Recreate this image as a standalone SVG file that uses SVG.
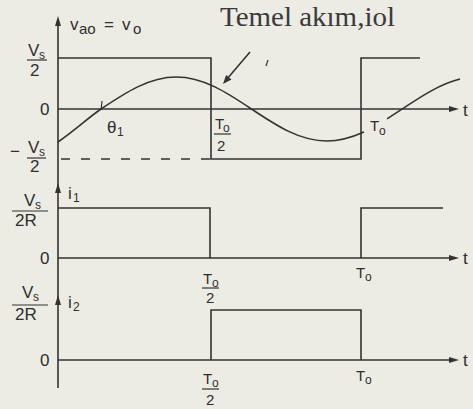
<svg xmlns="http://www.w3.org/2000/svg" width="473" height="409" viewBox="0 0 473 409">
<style>
.bg{fill:#ecebe4}
.ln{fill:none;stroke:#333;stroke-width:1.6}
.thin{fill:none;stroke:#333;stroke-width:1.2}
.dash{stroke-dasharray:9 11}
.t{font-family:"Liberation Sans",Arial,sans-serif;font-size:17px;fill:#2e2e2e}
.m{font-size:15px}
.s{font-size:12px}
.ttl{font-family:"Liberation Serif","Times New Roman",serif;font-size:27px;fill:#3a3a3a}
.ah{fill:#333}
</style>
<defs>
<path id="ahUp" d="M0,0 L-3,10 L3,10 Z"/>
<path id="ahRight" d="M0,0 L-10,-3 L-10,3 Z"/>
</defs>
<rect class="bg" x="0" y="0" width="473" height="409"/>

<g id="axis">
<path class="ln" d="M58,19 V388"/>
<use href="#ahUp" class="ah" x="58" y="16"/>
<use href="#ahUp" class="ah" x="58" y="183"/>
<use href="#ahUp" class="ah" x="58" y="295"/>
</g>

<g id="plot-vo">
<path class="ln" d="M58,109 H452"/>
<use href="#ahRight" class="ah" x="459" y="109"/>
<path class="ln" d="M58,58 H211 V159 H361 V58 H420"/>
<path class="ln dash" d="M61,159 H211"/>
<path class="ln" d="M58,142 C75,130 88,118 101,109 C125.54,92.61 149.02,77 176.25,77 C203.48,77 226.96,92.61 251.5,109 C276.04,125.39 299.52,141 326.75,141 C338.83,141 350.92,137.84 364,132"/>
<path class="ln" d="M387,118.9 C411.33,103.44 435.67,84.76 460,79"/>
<path class="thin" d="M102,101 L101,110"/>
<text class="t" x="70" y="30">v</text>
<text class="t m" x="79" y="34">ao</text>
<text class="t" x="104" y="30">=</text>
<text class="t" x="122" y="30">v</text>
<text class="t m" x="133" y="34">o</text>
<text class="t" x="28" y="56">V</text>
<text class="t s" x="39" y="59">s</text>
<path class="thin" d="M27,60 H47"/>
<text class="t" x="30" y="76">2</text>
<text class="t" x="40" y="115">0</text>
<text class="t" x="10" y="157">−</text>
<text class="t" x="28" y="153">V</text>
<text class="t s" x="39" y="156">s</text>
<path class="thin" d="M27,158 H46"/>
<text class="t" x="30" y="172">2</text>
<text class="t" x="107" y="133">θ</text>
<text class="t s" x="117" y="136">1</text>
<text class="t m" x="215" y="129">T</text>
<text class="t s" x="223" y="132">o</text>
<path class="thin" d="M214,134 H231"/>
<text class="t m" x="217" y="151">2</text>
<text class="t m" x="370" y="131">T</text>
<text class="t s" x="379" y="135">o</text>
<text class="t" x="463" y="116">t</text>
</g>

<g id="label-fundamental">
<text class="ttl" x="220" y="26" textLength="175" lengthAdjust="spacingAndGlyphs">Temel akım,iol</text>
<path class="ln" d="M250,52 L227,79"/>
<polygon class="ah" points="223,84 231.5,79.4 226.1,74.9"/>
<path class="thin" d="M268,60 L266,66"/>
</g>

<g id="plot-i1">
<path class="ln" d="M58,258 H452"/>
<use href="#ahRight" class="ah" x="459" y="258"/>
<path class="ln" d="M58,208 H210 V258"/>
<path class="ln" d="M361,258 V208 H443"/>
<text class="t" x="68" y="199">i</text>
<text class="t s" x="73" y="202">1</text>
<text class="t" x="24" y="206">V</text>
<text class="t s" x="35" y="209">s</text>
<path class="thin" d="M12,211 H48"/>
<text class="t" x="15" y="226">2R</text>
<text class="t" x="40" y="264">0</text>
<text class="t m" x="203" y="284">T</text>
<text class="t s" x="212" y="287">o</text>
<path class="thin" d="M202,288 H219"/>
<text class="t m" x="206" y="303">2</text>
<text class="t m" x="356" y="278">T</text>
<text class="t s" x="365" y="281">o</text>
<text class="t" x="463" y="264">t</text>
</g>

<g id="plot-i2">
<path class="ln" d="M58,360 H452"/>
<use href="#ahRight" class="ah" x="459" y="360"/>
<path class="ln" d="M211,360 V310 H361 V360"/>
<text class="t" x="68" y="308">i</text>
<text class="t s" x="73" y="311">2</text>
<text class="t" x="22" y="298">V</text>
<text class="t s" x="33" y="301">s</text>
<path class="thin" d="M12,305 H48"/>
<text class="t" x="15" y="320">2R</text>
<text class="t" x="40" y="366">0</text>
<text class="t m" x="203" y="384">T</text>
<text class="t s" x="212" y="387">o</text>
<path class="thin" d="M202,389 H219"/>
<text class="t m" x="206" y="405">2</text>
<text class="t m" x="356" y="381">T</text>
<text class="t s" x="365" y="384">o</text>
<text class="t" x="463" y="366">t</text>
</g>
</svg>
